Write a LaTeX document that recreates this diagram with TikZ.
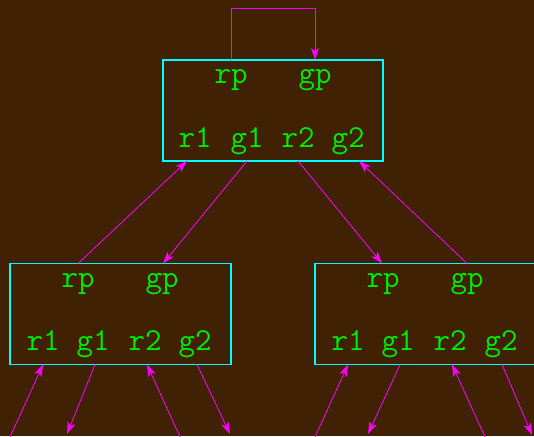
\documentclass[tikz,border=0pt]{standalone}
\usepackage{fontspec}
\usetikzlibrary{arrows.meta,calc}
\definecolor{bgbrown}{RGB}{64,33,4}
\definecolor{recline}{RGB}{0,255,255}
\definecolor{rectext}{RGB}{0,238,0}
\definecolor{edgecol}{RGB}{255,0,255}
\tikzset{
  recbox/.style={draw=recline, line width=1.6pt, minimum width=220pt,
    minimum height=101pt, inner sep=0pt, outer sep=0pt},
  field/.style={text=rectext, font=\ttfamily\fontsize{32}{34}\selectfont,
    anchor=base, inner sep=0pt},
  edge/.style={draw=edgecol, line width=0.8pt,
    -{Stealth[length=12pt,width=8pt,inset=3pt]}},
}
\begin{document}
\begin{tikzpicture}[x=1pt,y=-1pt]
  % canvas
  \fill[bgbrown] (0,0) rectangle (534,436);
  \useasboundingbox (0,0) rectangle (534,436);
  \clip (0,0) rectangle (534,436);

  % record nodes
  \node[recbox] (root) at (273,110.5) {};
  \node[recbox, minimum width=221pt] (lc) at (120.5,314) {};
  \node[recbox, minimum width=221pt] (rc) at (425.5,314) {};

  % fields of the root record
  \node[field] (root-rp) at (231,83) {rp};
  \node[field] (root-gp) at (315,83) {gp};
  \node[field] (root-r1) at (195,147) {r1};
  \node[field] (root-g1) at (247,147) {g1};
  \node[field] (root-r2) at (298,147) {r2};
  \node[field] (root-g2) at (348,147) {g2};

  % fields of the left child
  \node[field] (lc-rp) at (78,287) {rp};
  \node[field] (lc-gp) at (162,287) {gp};
  \node[field] (lc-r1) at (43,350) {r1};
  \node[field] (lc-g1) at (93,350) {g1};
  \node[field] (lc-r2) at (145,350) {r2};
  \node[field] (lc-g2) at (195,350) {g2};

  % fields of the right child
  \node[field] (rc-rp) at (383,287) {rp};
  \node[field] (rc-gp) at (467,287) {gp};
  \node[field] (rc-r1) at (348,350) {r1};
  \node[field] (rc-g1) at (398,350) {g1};
  \node[field] (rc-r2) at (450,350) {r2};
  \node[field] (rc-g2) at (501,350) {g2};

  % self loop rp -> gp on the root
  \draw[edge] ($(root.north west)+(68,0)$) |- ++(0,-52) -| ($(root.north west)+(152,0)$);

  % root <-> children
  \draw[edge] ($(lc.north west)+(68,0)$) -- ($(root.south west)+(24,0)$);
  \draw[edge] ($(root.south west)+(84,0)$) -- ($(lc.north west)+(153,0)$);
  \draw[edge] ($(root.south west)+(135,0)$) -- ($(rc.north west)+(67,0)$);
  \draw[edge] ($(rc.north west)+(152,0)$) -- ($(root.south west)+(196,0)$);

  % links to records below
  \coordinate (lc-in1)  at (10,437);
  \coordinate (lc-out1) at (67,434);
  \coordinate (lc-in2)  at (180,437);
  \coordinate (lc-out2) at (230,434);
  \coordinate (rc-in1)  at (315,437);
  \coordinate (rc-out1) at (368,434);
  \coordinate (rc-in2)  at (485,437);
  \coordinate (rc-out2) at (532,435);

  \draw[edge] (lc-in1) -- ($(lc.south west)+(33,0)$);
  \draw[edge] ($(lc.south west)+(85,0)$) -- (lc-out1);
  \draw[edge] (lc-in2) -- ($(lc.south west)+(137,0)$);
  \draw[edge] ($(lc.south west)+(187,0)$) -- (lc-out2);

  \draw[edge] (rc-in1) -- ($(rc.south west)+(33,0)$);
  \draw[edge] ($(rc.south west)+(85,0)$) -- (rc-out1);
  \draw[edge] (rc-in2) -- ($(rc.south west)+(137,0)$);
  \draw[edge] ($(rc.south west)+(187,0)$) -- (rc-out2);
\end{tikzpicture}
\end{document}
